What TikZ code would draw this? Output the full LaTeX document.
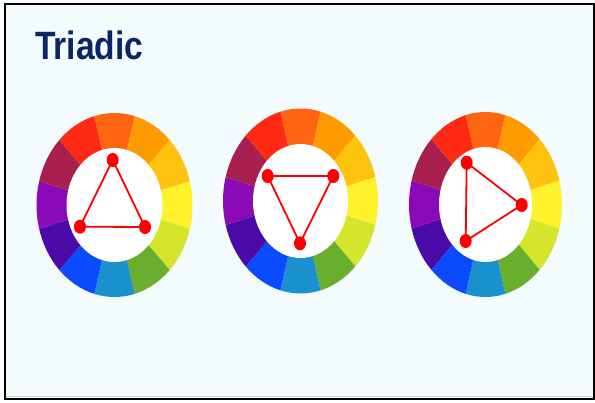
\documentclass[tikz,border=0pt]{standalone}
\usepackage{fontspec}
\setmainfont{Liberation Sans}
\usetikzlibrary{shapes.geometric}
\definecolor{bgc}{RGB}{243,251,253}
\definecolor{titlec}{RGB}{12,36,100}
\definecolor{dotred}{RGB}{255,0,0}
\definecolor{w0}{RGB}{255,100,16}
\definecolor{w1}{RGB}{255,154,0}
\definecolor{w2}{RGB}{255,194,14}
\definecolor{w3}{RGB}{255,242,42}
\definecolor{w4}{RGB}{212,229,44}
\definecolor{w5}{RGB}{106,174,46}
\definecolor{w6}{RGB}{26,144,204}
\definecolor{w7}{RGB}{10,75,255}
\definecolor{w8}{RGB}{74,10,168}
\definecolor{w9}{RGB}{138,10,184}
\definecolor{w10}{RGB}{168,32,78}
\definecolor{w11}{RGB}{255,42,20}
\tikzset{
  frame/.style={draw=black, line width=2pt, fill=bgc},
  titletext/.style={font=\bfseries\fontsize{39.5}{42}\selectfont, text=titlec, inner sep=0pt, anchor=base west, xscale=0.85},
  dot/.style={ellipse, fill=dotred, minimum width=12pt, minimum height=14pt, inner sep=0pt},
  tri/.style={draw=dotred, line width=1.8pt, line join=round},
}
% wheel: cx cy rx ry irx iry
\newcommand{\colorwheel}[6]{%
  \foreach \i in {0,...,11}{%
    \pgfmathsetmacro{\a}{-105+30*\i}%
    \pgfmathsetmacro{\b}{-75+30*\i}%
    \fill[w\i] (#1,#2) -- plot[domain=\a:\b, samples=9] ({#1+#3*cos(\x)},{#2+#4*sin(\x)}) -- cycle;
  }%
  \fill[white] (#1,#2) ellipse[x radius=#5pt, y radius=#6pt];
}
\begin{document}
\begin{tikzpicture}[x=1pt, y=-1pt]
\useasboundingbox (0,0) rectangle (595,403);
\fill[white] (0,0) rectangle (595,403);
\draw[frame] (5,4.5) rectangle (593.5,399);
\draw[gray!35, line width=0.8pt] (6,396.5) -- (592.5,396.5);
\node[titletext] (title) at (35,60) {Triadic};

% wheel 1
\colorwheel{114.5}{205}{78}{92}{48}{57}
\coordinate (a1) at (112.7,160);
\coordinate (b1) at (145,227);
\coordinate (c1) at (80,226.7);
\draw[tri] (a1) -- (b1) -- (c1) -- cycle;
\node[dot] (da1) at (a1) {};
\node[dot] (db1) at (b1) {};
\node[dot] (dc1) at (c1) {};

% wheel 2
\colorwheel{300.5}{201}{77.5}{92.5}{47.5}{57}
\coordinate (a2) at (267.7,176);
\coordinate (b2) at (333.3,176);
\coordinate (c2) at (300,243.3);
\draw[tri] (a2) -- (b2) -- (c2) -- cycle;
\node[dot] (da2) at (a2) {};
\node[dot] (db2) at (b2) {};
\node[dot] (dc2) at (c2) {};

% wheel 3
\colorwheel{485.5}{204.5}{76.5}{92.5}{46.5}{57.5}
\coordinate (a3) at (466.7,162.7);
\coordinate (b3) at (521.7,205);
\coordinate (c3) at (465.7,241);
\draw[tri] (a3) -- (b3) -- (c3) -- cycle;
\node[dot] (da3) at (a3) {};
\node[dot] (db3) at (b3) {};
\node[dot] (dc3) at (c3) {};
\end{tikzpicture}
\end{document}
